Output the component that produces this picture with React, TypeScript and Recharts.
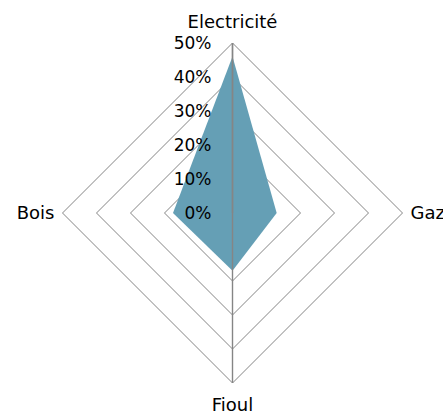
import { RadarChart, Radar, PolarGrid, PolarAngleAxis, PolarRadiusAxis } from 'recharts';

const categories = ['Electricité', 'Gaz', 'Fioul', 'Bois'];
const shares = [46, 13, 17, 17.5];
const radiusTicks = [0, 10, 20, 30, 40, 50];

const data = categories.map((name, i) => ({ name, value: shares[i] }));

const CX = 232.5;
const CY = 213;
const GRID = '#858585';
const FONT = '"DejaVu Sans", Verdana, sans-serif';

function AngleTick(props: any) {
  const { x, y, payload, textAnchor } = props;
  let dy = 6;
  if (y < CY - 10) dy = -7;
  else if (y > CY + 10) dy = 20;
  return (
    <text x={x} y={y} dy={dy} textAnchor={textAnchor} fontSize={18} fontFamily={FONT} fill="#000">
      {payload.value}
    </text>
  );
}

function RadiusTick(props: any) {
  const { x, y, payload } = props;
  return (
    <text x={x - 21} y={y} dy={6} textAnchor="end" fontSize={17} fontFamily={FONT} fill="#000">
      {payload.value}%
    </text>
  );
}

export default function App() {
  return (
    <div style={{ position: 'absolute', left: 0, top: 0, background: '#fff' }}>
      <RadarChart width={443} height={415} data={data} cx={CX} cy={CY} outerRadius={170}>
        <PolarGrid gridType="polygon" radialLines={false} stroke={GRID} />
        <Radar
          dataKey="value"
          fill="#659fb5"
          fillOpacity={1}
          stroke="none"
          isAnimationActive={false}
        />
        <PolarGrid
          gridType="polygon"
          polarAngles={[90, -90]}
          polarRadius={[0]}
          stroke={GRID}
          strokeWidth={1.4}
          {...({ zIndex: 1000 } as any)}
        />
        <PolarAngleAxis dataKey="name" axisLine={false} tickLine={false} tick={<AngleTick />} />
        <PolarRadiusAxis
          angle={90}
          domain={[0, 50]}
          ticks={radiusTicks as any}
          tickCount={6}
          axisLine={{ stroke: GRID, strokeWidth: 1.4 }}
          tickLine={false}
          tick={<RadiusTick />}
        />
      </RadarChart>
    </div>
  );
}
